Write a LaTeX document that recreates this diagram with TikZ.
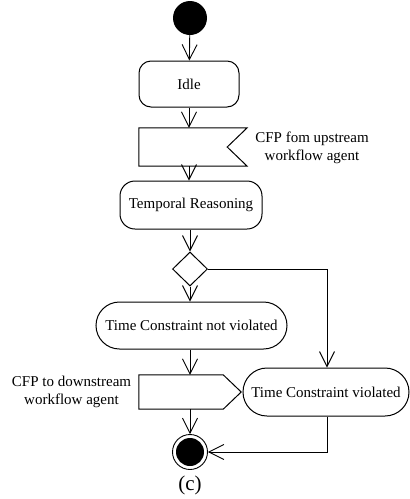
\documentclass[tikz,border=0pt]{standalone}
\usepackage{fontspec}
\setmainfont{Liberation Serif}
\usetikzlibrary{arrows.meta,shapes.geometric,calc}
\begin{document}
\begin{tikzpicture}[x=1pt,y=-1pt,
  every node/.style={font=\fontsize{15}{18}\selectfont, inner sep=0pt},
  line/.style={line width=0.9pt},
  flow/.style={line, -{Straight Barb[length=15pt,width=15pt,line width=0.9pt]}},
  action/.style={draw, line width=1pt, rounded corners=#1, minimum height=47pt},
  box/.style={minimum width=#1, minimum height=34pt}
]
\useasboundingbox (0,0) rectangle (410,499);

% start and end
\node[circle, fill=black, minimum size=34pt] (start) at (190,18) {};
\node[circle, draw, line width=0.9pt, minimum size=35pt] (final) at (190,452) {};
\fill (final.center) circle (14pt);

% actions
\node[action=12pt, minimum width=100pt, minimum height=46pt] (idle) at (189,84) {Idle};
\node[action=15pt, minimum width=142pt, minimum height=48pt] (temp) at (191,205) {Temporal Reasoning};
\node[action=23.5pt, minimum width=191pt] (notv) at (191.5,325.5) {Time Constraint not violated};
\node[action=24pt, minimum width=166pt, minimum height=48pt] (viol) at (326,392) {Time Constraint violated};

% receive signal
\node[minimum width=108pt, minimum height=38pt] (recv) at (193,147) {};
\draw[line width=1pt] (recv.north west) -- (recv.north east) -- ($(recv.east)+(-20,0)$)
  -- (recv.south east) -- (recv.south west) -- cycle;
\node[align=center] (recvlbl) at (312,148) {CFP fom upstream\\workflow agent};

% send signal
\node[minimum width=102pt, minimum height=34pt] (send) at (190,392) {};
\draw[line width=1pt] (send.north west) -- ($(send.north east)+(-18,0)$) -- (send.east)
  -- ($(send.south east)+(-18,0)$) -- (send.south west) -- cycle;
\node[align=center] (sendlbl) at (71.5,392) {CFP to downstream\\workflow agent};

% decision
\node[diamond, draw, line width=1pt, minimum width=35pt, minimum height=34pt] (dec) at (190,269) {};

% flows
\draw[flow] (start) -- (idle);
\draw[flow] (idle) -- (recv.north -| idle);
\draw[flow] (recv.south -| idle) -- (temp.north -| idle);
\draw[flow] (temp.south -| dec) -- (dec);
\draw[flow] (dec) -- (notv.north -| dec);
\draw[flow] (dec.east) -| (viol.north -| 327,0);
\draw[flow] (notv.south -| send) -- (send);
\draw[flow] (send) -- (final);
\draw[flow] (viol.south -| 327,0) |- (final.east);

\node[font=\fontsize{21}{24}\selectfont] (cap) at (190,485) {(c)};
\end{tikzpicture}
\end{document}
